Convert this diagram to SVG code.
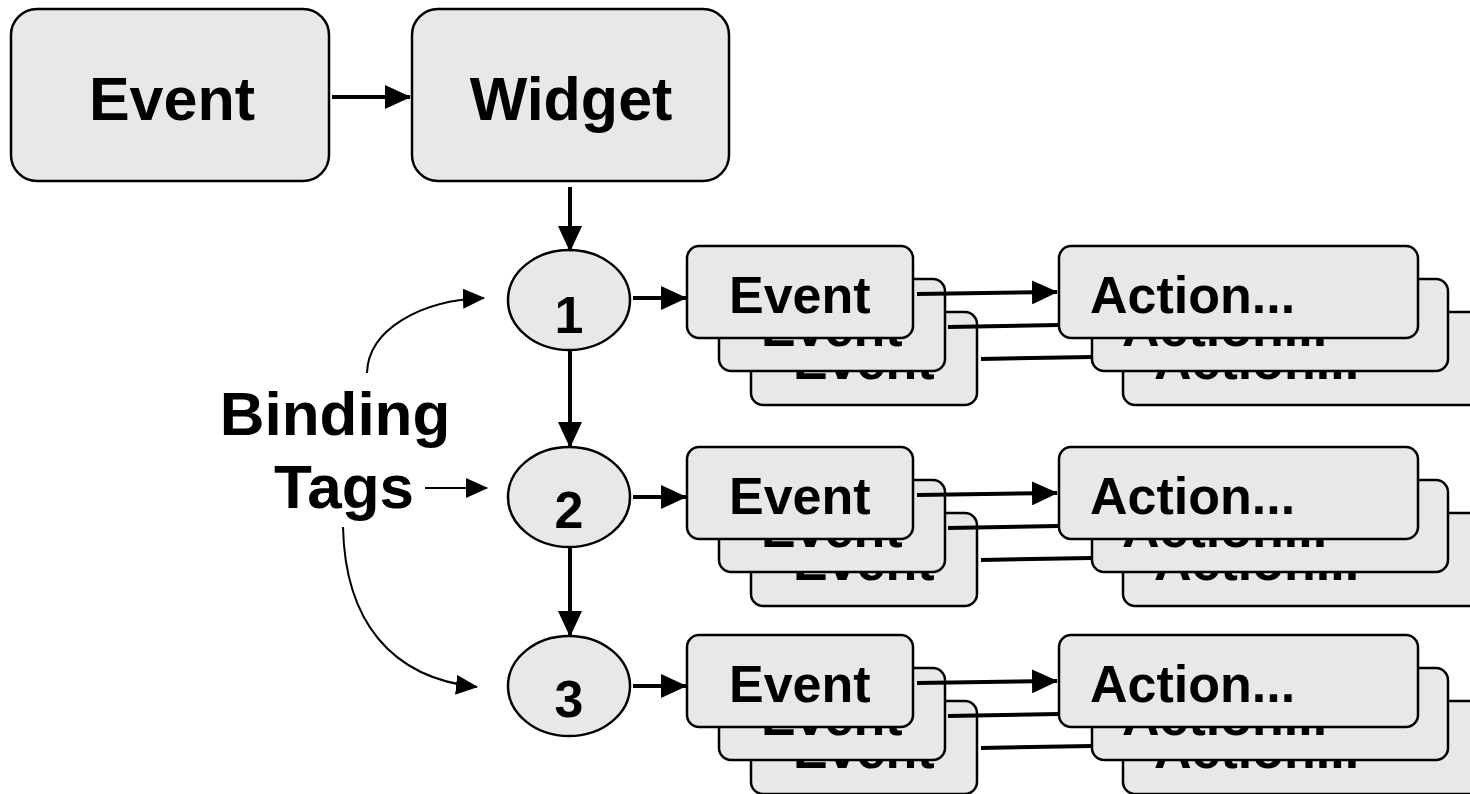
<svg xmlns="http://www.w3.org/2000/svg" width="1470" height="794" viewBox="0 0 1470 794">
<defs>
<style>
.box{fill:#e8e8e8;stroke:#000;stroke-width:2.5}
.t{font-family:"Liberation Sans",Arial,sans-serif;font-weight:bold;fill:#000}
.big{font-size:61px}
.bt{font-size:62px}
.mid{font-size:52px}
.thick{stroke:#000;stroke-width:4;fill:none}
.thin{stroke:#000;stroke-width:2;fill:none}
</style>
<marker id="ah" markerUnits="userSpaceOnUse" markerWidth="26" markerHeight="24" refX="25" refY="12" orient="auto">
<path d="M0,0 L26,12 L0,24 Z" fill="#000"/>
</marker>
<marker id="ahs" markerUnits="userSpaceOnUse" markerWidth="22" markerHeight="20" refX="21" refY="10" orient="auto">
<path d="M0,0 L22,10 L0,20 Z" fill="#000"/>
</marker>
<g id="estack">
<rect class="box" x="751" y="312" width="226" height="93" rx="12"/>
<text class="t mid" x="793" y="379">Event</text>
<rect class="box" x="719" y="279" width="226" height="92" rx="12"/>
<text class="t mid" x="761" y="346">Event</text>
<rect class="box" x="687" y="246" width="226" height="92" rx="12"/>
<text class="t mid" x="729" y="313">Event</text>
</g>
<g id="astack">
<rect class="box" x="1123" y="312" width="370" height="93" rx="12"/>
<text class="t mid" x="1154" y="379">Action...</text>
<rect class="box" x="1092" y="279" width="356" height="92" rx="12"/>
<text class="t mid" x="1122" y="346">Action...</text>
<rect class="box" x="1059" y="246" width="359" height="92" rx="12"/>
<text class="t mid" x="1090" y="313">Action...</text>
</g>
</defs>

<g id="node-event">
<rect class="box" x="11" y="9" width="318" height="172" rx="26"/>
<text class="t big" x="172" y="120" text-anchor="middle">Event</text>
</g>
<g id="node-widget">
<rect class="box" x="412" y="9" width="317" height="172" rx="26"/>
<text class="t big" x="571" y="120" text-anchor="middle">Widget</text>
</g>
<g id="node-binding-tags">
<text class="t bt" x="335" y="435" text-anchor="middle">Binding</text>
<text class="t bt" x="344" y="508" text-anchor="middle">Tags</text>
</g>
<g id="node-tag1">
<ellipse class="box" cx="569" cy="300" rx="61" ry="50"/>
<text class="t mid" x="569" y="333" text-anchor="middle">1</text>
</g>
<g id="node-tag2">
<ellipse class="box" cx="569" cy="497" rx="61" ry="50"/>
<text class="t mid" x="569" y="528" text-anchor="middle">2</text>
</g>
<g id="node-tag3">
<ellipse class="box" cx="569" cy="686" rx="61" ry="50"/>
<text class="t mid" x="569" y="717" text-anchor="middle">3</text>
</g>

<g id="connectors">
<line class="thick" x1="332" y1="97" x2="410" y2="97" marker-end="url(#ah)"/>
<line class="thick" x1="570" y1="187" x2="570" y2="251" marker-end="url(#ah)"/>
<line class="thick" x1="570" y1="350" x2="570" y2="447" marker-end="url(#ah)"/>
<line class="thick" x1="570" y1="546" x2="570" y2="636" marker-end="url(#ah)"/>
<line class="thick" x1="633" y1="298" x2="686" y2="298" marker-end="url(#ah)"/>
<line class="thick" x1="633" y1="497" x2="686" y2="497" marker-end="url(#ah)"/>
<line class="thick" x1="633" y1="686" x2="686" y2="686" marker-end="url(#ah)"/>
<path class="thin" d="M367,373 C368,330 420,300 484,298" marker-end="url(#ahs)"/>
<line class="thin" x1="425" y1="488" x2="487" y2="488" marker-end="url(#ahs)"/>
<path class="thin" d="M343,527 C345,620 390,678 477,687" marker-end="url(#ahs)"/>
</g>

<g id="row1">
<use href="#estack"/>
<use href="#astack"/>
<line class="thick" x1="917" y1="294" x2="1057" y2="292" marker-end="url(#ah)"/>
<line class="thick" x1="948" y1="327" x2="1059" y2="325"/>
<line class="thick" x1="981" y1="359" x2="1092" y2="357"/>
</g>
<g id="row2" transform="translate(0,201)">
<use href="#estack"/>
<use href="#astack"/>
<line class="thick" x1="917" y1="294" x2="1057" y2="292" marker-end="url(#ah)"/>
<line class="thick" x1="948" y1="327" x2="1059" y2="325"/>
<line class="thick" x1="981" y1="359" x2="1092" y2="357"/>
</g>
<g id="row3" transform="translate(0,389)">
<use href="#estack"/>
<use href="#astack"/>
<line class="thick" x1="917" y1="294" x2="1057" y2="292" marker-end="url(#ah)"/>
<line class="thick" x1="948" y1="327" x2="1059" y2="325"/>
<line class="thick" x1="981" y1="359" x2="1092" y2="357"/>
</g>
</svg>
